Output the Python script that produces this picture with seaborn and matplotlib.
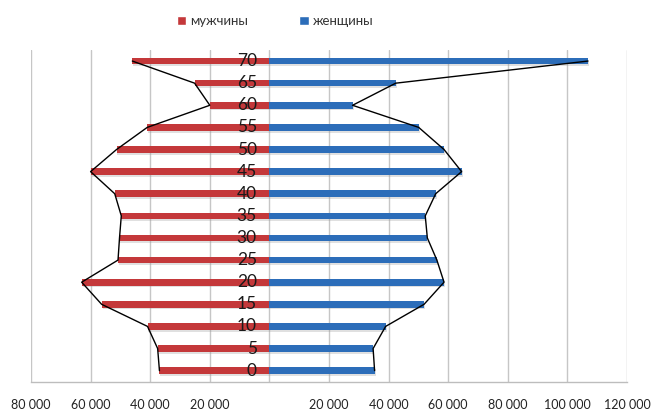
import matplotlib
matplotlib.use("Agg")
import matplotlib.pyplot as plt
import matplotlib.patheffects as pe
from matplotlib.patches import Patch
import seaborn as sns
import pandas as pd

# Age groups (top to bottom) and population counts
ages = ["70", "65", "60", "55", "50", "45", "40", "35", "30", "25", "20", "15", "10", "5", "0"]
men = [46000, 25100, 20000, 41000, 51300, 60000, 51900, 49700, 50300, 50800, 63000, 56300, 40900, 37500, 36900]
women = [106900, 42400, 27900, 50100, 58600, 64500, 55800, 52300, 53000, 56200, 58600, 51900, 39000, 34800, 35300]
xticks = [-80000, -60000, -40000, -20000, 0, 20000, 40000, 60000, 80000, 100000, 120000]

label_men = "мужчины"
label_women = "женщины"
red = "#C4383A"
blue = "#2C6DB9"

df = pd.DataFrame({
    "age": ages * 2,
    "value": [-v for v in men] + list(women),
    "sex": [label_men] * len(ages) + [label_women] * len(ages),
})

sns.set_theme(style="white")
plt.rcParams["font.family"] = ["Lato", "DejaVu Sans"]

fig = plt.figure(figsize=(6.52, 4.12), dpi=100)
ax = fig.add_axes([31 / 652, 1 - 381.7 / 412, (627 - 31) / 652, (381.7 - 50) / 412])

sns.barplot(data=df, x="value", y="age", hue="sex", order=ages,
            hue_order=[label_men, label_women],
            palette=[red, blue], saturation=1, dodge=False, width=0.3,
            orient="h", ax=ax, legend=False, zorder=3)

shadow = [pe.SimplePatchShadow(offset=(0.7, -1.3), shadow_rgbFace="#999999", alpha=0.3), pe.Normal()]
for bar in ax.patches:
    bar.set_linewidth(0)
    bar.set_path_effects(shadow)

# Outline through the bar ends
pos = list(range(len(ages)))
ax.plot([-v for v in men], pos, color="black", lw=1.0, zorder=4)
ax.plot(women, pos, color="black", lw=1.0, zorder=4)

ax.set_xlim(-80000, 120000)
ax.set_ylim(len(ages) - 0.5, -0.5)
ax.set_xticks(xticks)
ax.set_xticklabels([("" if t == 0 else f"{abs(t):,}".replace(",", " ")) for t in xticks],
                   fontsize=9, color="#222222")
ax.tick_params(axis="x", length=3.3, width=1, color="#BDBDBD", pad=9)
ax.set_yticks([])
ax.set_xlabel("")
ax.set_ylabel("")

for t in xticks:
    ax.axvline(t, color="#C6C6C6", lw=1, zorder=1)

for s in ["top", "right", "left"]:
    ax.spines[s].set_visible(False)
ax.spines["bottom"].set_color("#BDBDBD")
ax.spines["bottom"].set_linewidth(1)

# Age labels beside the zero line
for p, a in zip(pos, ages):
    ax.annotate(a, xy=(0, p), xytext=(-9, 0), textcoords="offset points",
                ha="right", va="center", fontsize=12.5, color="#1A1A1A", zorder=5)

handles = [Patch(facecolor=red, label=label_men), Patch(facecolor=blue, label=label_women)]
fig.legend(handles=handles, loc="center", bbox_to_anchor=(275 / 652, 1 - 21 / 412),
           ncol=2, frameon=False, fontsize=9.5, handlelength=0.7, handleheight=0.7,
           handletextpad=0.3, columnspacing=3.9, labelcolor="#333333")

fig.savefig("out.png", dpi=100, facecolor="white")
